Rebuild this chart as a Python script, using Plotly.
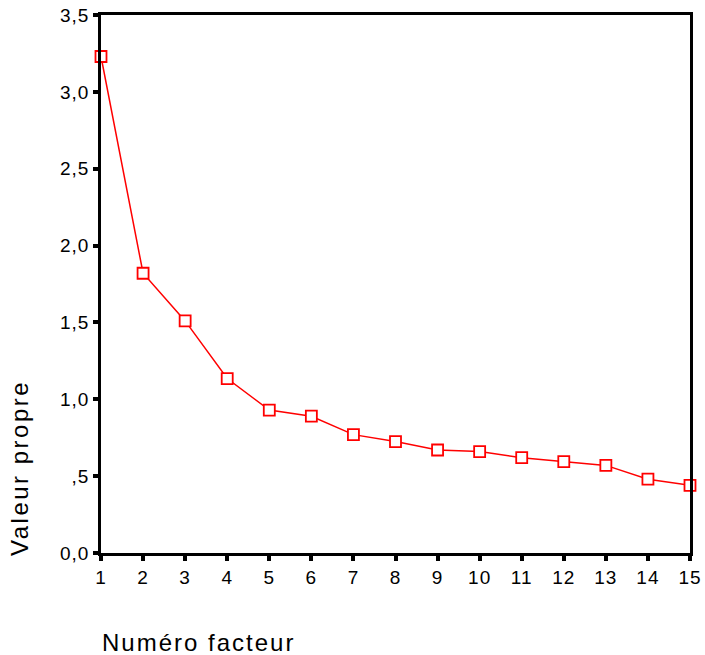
import plotly.graph_objects as go

factors = list(range(1, 16))
eigenvalues = [3.23, 1.82, 1.51, 1.135, 0.93, 0.89, 0.77, 0.725, 0.67, 0.66, 0.62, 0.595, 0.57, 0.48, 0.44]
y_tickvals = [0.0, 0.5, 1.0, 1.5, 2.0, 2.5, 3.0, 3.5]
y_ticktext = ["0,0", ",5", "1,0", "1,5", "2,0", "2,5", "3,0", "3,5"]
x_title = "Numéro facteur"
y_title = "Valeur propre"

FONT = "Liberation Sans, Arial, sans-serif"

def spaced(t, px):
    return '<span style="letter-spacing:%spx">%s</span>' % (px, t)

fig = go.Figure()
fig.add_trace(go.Scatter(
    x=factors, y=eigenvalues, mode="lines+markers",
    line=dict(color="#ff0000", width=1.5),
    marker=dict(symbol="square", size=11, color="white",
                line=dict(color="#ff0000", width=1.8)),
    cliponaxis=False, showlegend=False,
))

axis_common = dict(
    showgrid=False, zeroline=False, showline=True, linecolor="black",
    linewidth=2.5, mirror=True, ticks="outside", ticklen=5, tickwidth=4,
    tickcolor="black", tickfont=dict(family=FONT, size=19, color="black"),
    automargin=False,
)
fig.update_xaxes(range=[1, 15], tickvals=factors,
                 ticktext=[spaced(str(v), 1) for v in factors], **axis_common)
fig.update_yaxes(range=[0, 3.5], tickvals=y_tickvals,
                 ticktext=[spaced(t, 1) for t in y_ticktext], **axis_common)

fig.add_annotation(text=spaced(x_title, 2), xref="paper", yref="paper",
                   x=0, y=-0.167, xanchor="left", yanchor="middle",
                   showarrow=False, borderpad=0,
                   font=dict(family=FONT, size=24, color="black"))
fig.add_annotation(text=spaced(y_title, 2.5), xref="paper", yref="paper",
                   x=-0.1375, y=0.158, xanchor="center", yanchor="middle",
                   textangle=-90, showarrow=False, borderpad=0,
                   font=dict(family=FONT, size=24, color="black"))

fig.update_layout(
    width=705, height=655,
    margin=dict(l=101, r=15, t=15, b=102, autoexpand=False),
    paper_bgcolor="white", plot_bgcolor="white",
)
fig.write_html("out.html", config={"displayModeBar": False},
               post_script="document.body.style.margin='0';document.body.style.overflow='hidden';")
